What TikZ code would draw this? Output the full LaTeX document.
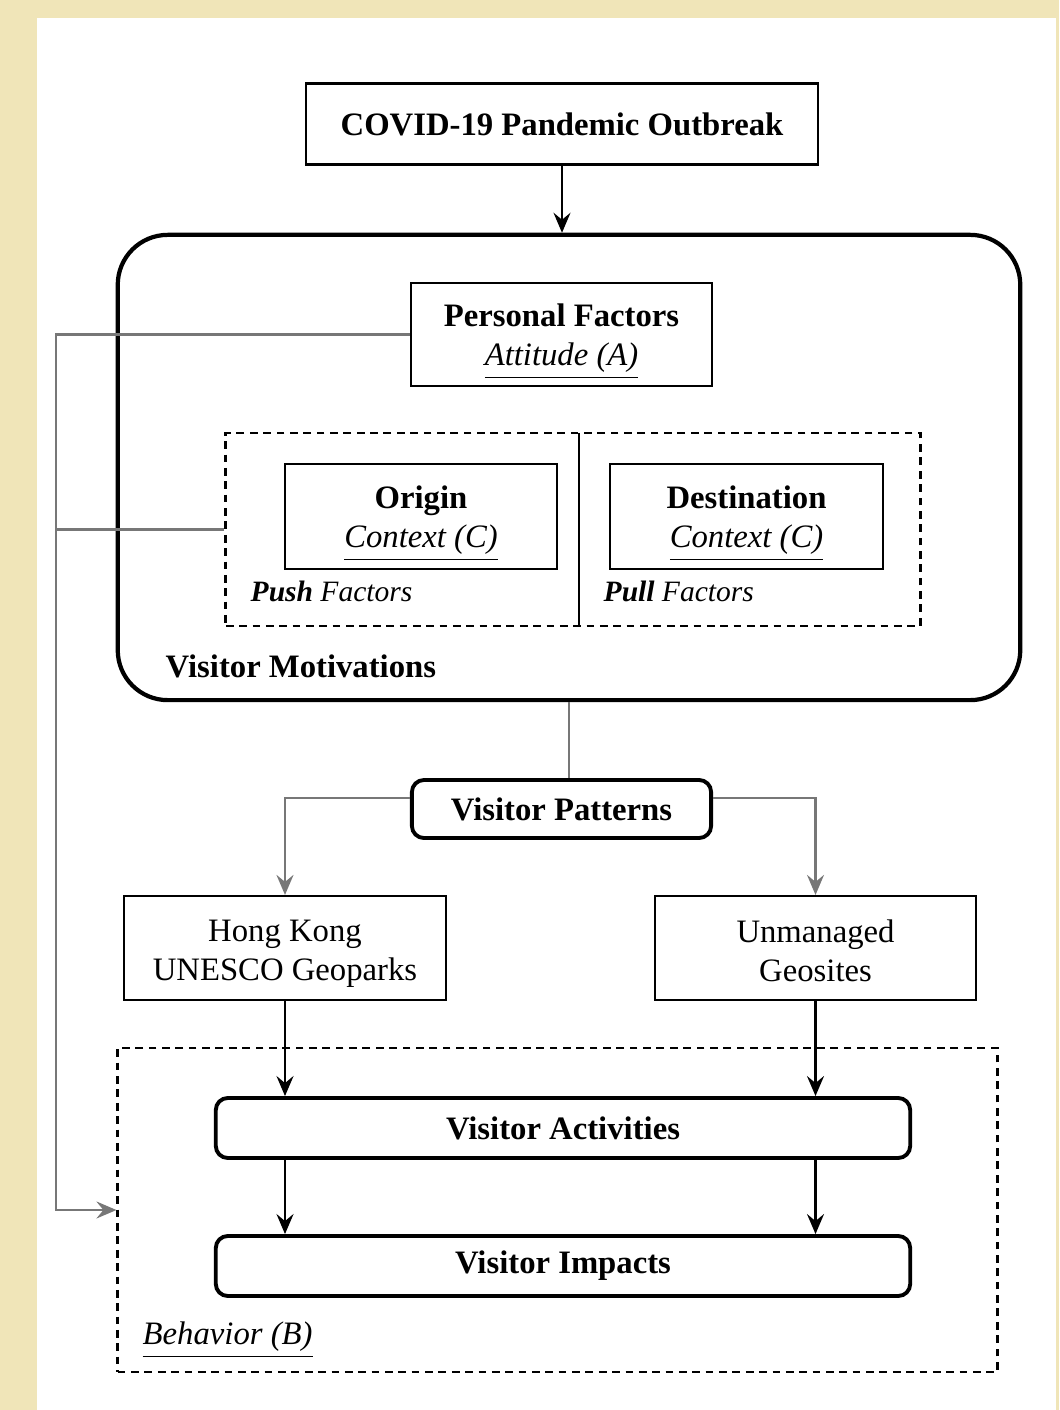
\documentclass[tikz,border=0pt]{standalone}
\usepackage{fontspec}
\setmainfont{Liberation Serif}
\usetikzlibrary{arrows.meta}
\definecolor{paper}{HTML}{F0E5B8}
\definecolor{linkgray}{HTML}{777777}
\begin{document}
\begin{tikzpicture}[x=0.01cm, y=-0.01cm,
    font=\fontsize{9.3}{11.1}\selectfont,
    plainbox/.style={draw, line width=0.6pt, inner sep=0pt, align=center},
    boxtext/.style={inner sep=0pt, align=center, yshift=-0.07cm},
    roundbox/.style={draw, line width=1.1pt, rounded corners=0.12cm, inner sep=0pt, align=center, font=\fontsize{9.3}{11.1}\selectfont\bfseries},
    dashbox/.style={draw, line width=0.75pt, dash pattern=on 2.2pt off 1.6pt, inner sep=0pt},
    arr/.style={line width=0.6pt, -{Stealth[length=0.2cm, width=0.17cm, inset=0.07cm]}},
    grayline/.style={draw=linkgray, line width=0.6pt},
    grayarr/.style={grayline, -{Stealth[length=0.2cm, width=0.17cm, inset=0.07cm]}}]

    % --- Page ---
    \fill[paper] (0,0) rectangle (1059,1410);
    \fill[white] (37,18) rectangle (1056,1410);
    \useasboundingbox (0,0) rectangle (1059,1410);

    % --- Top box ---
    % the outbreak
    \node[plainbox, minimum width=5.12cm, minimum height=0.81cm, font=\fontsize{9.3}{11.1}\selectfont\bfseries] (covid) at (562,124) {COVID-19 Pandemic Outbreak};

    % --- Visitor motivations ---
    % big rounded frame
    \node[draw, line width=1.2pt, rounded corners=0.5cm, minimum width=9.02cm, minimum height=4.65cm] (motiv) at (569,467.5) {};
    \node[anchor=west, inner sep=0pt, font=\fontsize{9.3}{11.1}\selectfont\bfseries] (motivlabel) at (165,666) {Visitor Motivations};

    % personal factors
    \node[plainbox, minimum width=3.01cm, minimum height=1.03cm] (personal) at (561.5,334.5) {};
    \node[boxtext] (personaltext) at (personal) {\textbf{Personal Factors}\\\textit{\underline{Attitude (A)}}};

    % push and pull area
    \node[dashbox, minimum width=6.94cm, minimum height=1.93cm] (factors) at (573,529.5) {};
    \draw[line width=0.6pt] (579,433) -- (579,626);

    % origin and destination
    \node[plainbox, minimum width=2.72cm, minimum height=1.05cm] (origin) at (421,516.5) {};
    \node[boxtext] (origintext) at (origin) {\textbf{Origin}\\\textit{\underline{Context (C)}}};
    \node[plainbox, minimum width=2.73cm, minimum height=1.05cm] (dest) at (746.5,516.5) {};
    \node[boxtext] (desttext) at (dest) {\textbf{Destination}\\\textit{\underline{Context (C)}}};
    \node[anchor=west, inner sep=0pt, font=\fontsize{8.4}{10}\selectfont] (push) at (250,591) {\textit{\textbf{Push}} \textit{Factors}};
    \node[anchor=west, inner sep=0pt, font=\fontsize{8.4}{10}\selectfont] (pull) at (603,591) {\textit{\textbf{Pull}} \textit{Factors}};

    % --- Visitor patterns ---
    \node[roundbox, minimum width=2.99cm, minimum height=0.58cm] (patterns) at (561.5,809) {Visitor Patterns};
    \node[plainbox, minimum width=3.22cm, minimum height=1.04cm] (hongkong) at (285,948) {};
    \node[boxtext, yshift=0.01cm] (hongkongtext) at (hongkong) {Hong Kong\\UNESCO Geoparks};
    \node[plainbox, minimum width=3.21cm, minimum height=1.04cm] (unmanaged) at (815.5,948) {};
    \node[boxtext, yshift=0.04cm] (unmanagedtext) at (unmanaged) {Unmanaged\\Geosites};

    % --- Behavior ---
    \node[dashbox, minimum width=8.79cm, minimum height=3.24cm] (behavior) at (557.5,1210) {};
    \node[roundbox, minimum width=6.94cm, minimum height=0.60cm] (activities) at (563,1128) {Visitor Activities};
    \node[roundbox, minimum width=6.94cm, minimum height=0.60cm] (impacts) at (563,1266) {Visitor Impacts};
    \node[anchor=west, inner sep=0pt] (behavlabel) at (142,1340) {\textit{\underline{Behavior (B)}}};

    % --- Connectors ---
    \draw[arr] (covid.south) -- (covid.south |- motiv.north);
    \draw[grayline] (motiv.south) -- (motiv.south |- patterns.north);
    \draw[grayarr] ([yshift=0.11cm]patterns.west) -| (hongkong.north);
    \draw[grayarr] ([yshift=0.11cm]patterns.east) -| (unmanaged.north);
    \draw[arr] (hongkong.south) -- (hongkong.south |- activities.north);
    \draw[arr] (unmanaged.south) -- (unmanaged.south |- activities.north);
    \draw[arr] (hongkong.south |- activities.south) -- (hongkong.south |- impacts.north);
    \draw[arr] (unmanaged.south |- activities.south) -- (unmanaged.south |- impacts.north);

    % feedback to behavior
    \coordinate (fb) at (56,1210);
    \draw[grayarr] (personal.west) -| (fb) -- (behavior.west);
    \draw[grayline] (factors.west) -- (factors.west -| fb);

\end{tikzpicture}
\end{document}
